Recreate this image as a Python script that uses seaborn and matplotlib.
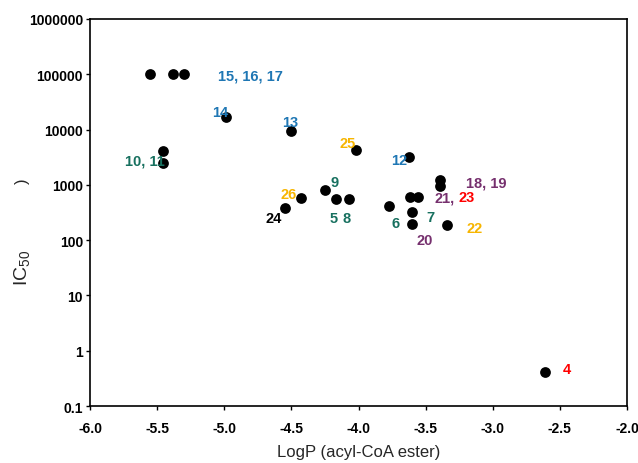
import matplotlib
matplotlib.use("Agg")
import matplotlib.pyplot as plt
import pandas as pd
import seaborn as sns

# measured points (LogP of acyl-CoA ester vs IC50)
logp = [-5.55, -5.38, -5.30, -4.985, -4.50, -5.46, -5.46, -4.017, -3.625,
        -3.39, -3.39, -3.62, -3.56, -4.25, -4.43, -4.17, -4.07, -4.55,
        -3.77, -3.60, -3.60, -3.34, -2.61]
ic50 = [100000, 100000, 100000, 17000, 9500, 4100, 2450, 4250, 3250,
        1200, 950, 600, 600, 800, 590, 560, 560, 380,
        410, 320, 200, 185, 0.42]

# compound labels
label_text = ["15, 16, 17", "14", "13", "10, 11", "25", "12", "9", "26", "24",
              "5", "8", "6", "7", "18, 19", "21,", "23", "20", "22", "4"]
label_x = [-4.806, -5.03, -4.507, -5.59, -4.082, -3.70, -4.179, -4.522, -4.634,
           -4.187, -4.09, -3.724, -3.463, -3.052, -3.36, -3.194, -3.507, -3.134, -2.448]
label_y = [97000, 20750, 13700, 2810, 5710, 2810, 1125, 682, 251,
           251, 251, 204, 262, 1125, 603, 603, 100, 166, 0.467]
blue, green, orange, purple, red = "#1f77b4", "#17705f", "#f7b500", "#76306e", "#ff0000"
label_color = [blue, blue, blue, green, orange, blue, green, orange, "black",
               green, green, green, green, purple, purple, red, purple, orange, red]

yticks = [0.1, 1, 10, 100, 1000, 10000, 100000, 1000000]
ytick_labels = ["0.1", "1", "10", "100", "1000", "10000", "100000", "1000000"]
xticks = [-6.0, -5.5, -5.0, -4.5, -4.0, -3.5, -3.0, -2.5, -2.0]

sns.set_theme(style="ticks")
plt.rcParams["font.family"] = ["Liberation Sans", "DejaVu Sans"]
plt.rcParams["mathtext.default"] = "regular"

df = pd.DataFrame({"logp": logp, "ic50": ic50})

fig = plt.figure(figsize=(6.38, 4.64), dpi=100)
ax = fig.add_axes([0.1411, 0.1228, 0.8417, 0.8341])
sns.scatterplot(data=df, x="logp", y="ic50", color="black", s=60,
                edgecolor="black", linewidth=0, ax=ax, zorder=3)
ax.set_yscale("log")
ax.set_xlim(-6.0, -2.0)
ax.set_ylim(0.1, 1000000)
ax.set_yticks(yticks)
ax.set_yticklabels(ytick_labels)
ax.yaxis.set_minor_locator(matplotlib.ticker.NullLocator())
ax.set_xticks(xticks)
ax.set_xticklabels([f"{t:.1f}" for t in xticks])
ax.tick_params(axis="both", direction="out", length=3, width=1, pad=2,
               labelsize=10, colors="black")
for lab in ax.get_xticklabels() + ax.get_yticklabels():
    lab.set_fontweight("bold")
ax.tick_params(axis="x", pad=8)
for sp in ax.spines.values():
    sp.set_linewidth(1.2)
    sp.set_color("black")

for t, x, y, c in zip(label_text, label_x, label_y, label_color):
    ax.text(x, y, t, color=c, fontsize=10.5, fontweight="bold",
            ha="center", va="center", zorder=4)

ax.set_xlabel("LogP (acyl-CoA ester)", fontsize=12, labelpad=6)
ax.set_ylabel("")
fig.text(22 / 638, 1 - 268 / 464, "IC$_{50}$", rotation=90, fontsize=14,
         ha="center", va="center")
fig.text(22 / 638, 1 - 181 / 464, ")", rotation=90, fontsize=12,
         ha="center", va="center")

fig.savefig("out.png", dpi=100)
